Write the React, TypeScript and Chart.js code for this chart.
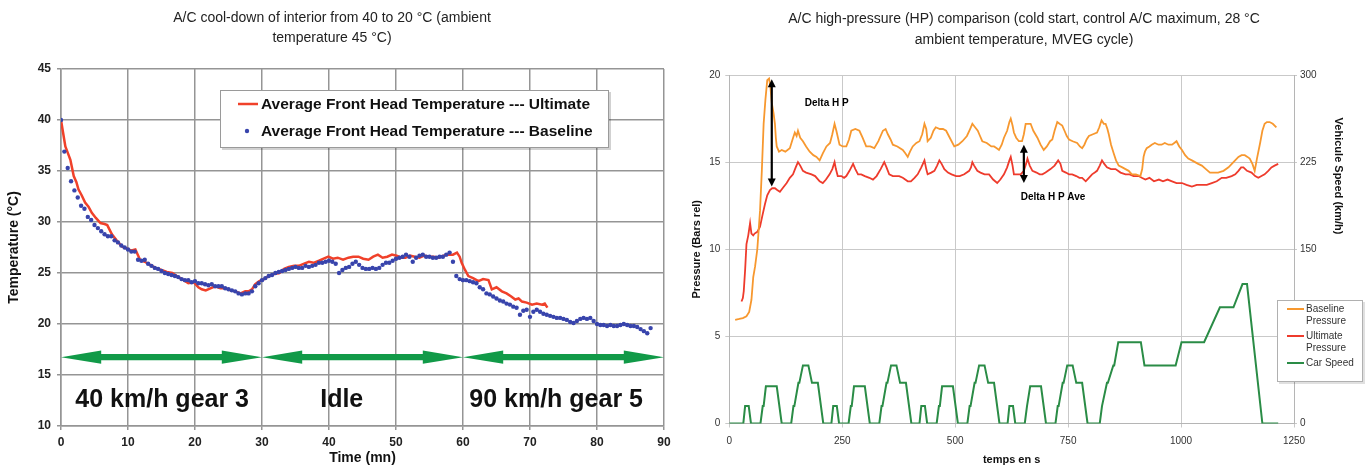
import React, { useEffect, useRef } from 'react';
import { Chart, registerables } from 'chart.js';

Chart.register(...registerables);

const FONT = '"Liberation Sans", Arial, Helvetica, sans-serif';
Chart.defaults.font.family = FONT;

// ---------------- Left chart: A/C cool-down ----------------
const coolTitle = ['A/C cool-down of interior from 40 to 20 °C (ambient', 'temperature 45 °C)'];
const coolXLabel = 'Time (mn)';
const coolYLabel = 'Temperature (°C)';
const coolSeriesNames = ['Average Front Head Temperature --- Ultimate', 'Average Front Head Temperature --- Baseline'];

const ultimateTime = [0,0.3,0.65,1.0,1.4,1.9,2.3,2.6,3.1,3.6,4.1,4.6,5.2,5.9,6.5,6.9,7.6,8.3,9.1,9.8,10.5,11.1,11.8,12.5,13.3,14.1,15.0,15.8,16.6,17.5,18.3,19.0,19.8,20.5,21.0,21.6,22.3,23.0,23.8,24.6,25.3,26.0,26.8,27.5,28.0,28.5,29.0,29.6,30.3,31.0,31.8,32.6,33.3,34.0,34.8,35.5,36.2,37.0,37.7,38.5,39.2,39.9,40.6,41.3,42.1,42.9,43.6,44.4,45.1,45.9,46.6,47.3,48.0,48.7,49.4,50.1,50.8,51.4,52.1,52.8,53.5,54.2,54.9,55.6,56.4,57.1,57.8,58.5,59.1,59.5,59.8,60.3,60.8,61.5,62.3,63.0,63.8,64.3,65.0,65.8,66.5,67.2,67.8,68.3,68.8,69.5,70.3,71.0,71.8,72.2,72.6];
const ultimateTemp = [40.0,38.8,37.4,36.8,36.1,34.5,33.9,33.2,32.6,31.9,31.5,30.9,30.4,29.9,29.8,29.7,28.8,28.2,27.6,27.4,27.2,27.3,26.3,26.1,25.8,25.5,25.3,25.1,25.0,24.6,24.3,24.0,24.1,23.6,23.4,23.3,23.5,23.7,23.5,23.5,23.3,23.2,23.0,23.2,23.2,23.4,23.9,24.2,24.4,24.7,24.9,25.0,25.4,25.6,25.7,25.7,25.9,26.1,26.0,26.2,26.4,26.6,26.4,26.5,26.3,26.5,26.6,26.6,26.4,26.3,26.6,26.8,26.5,26.6,26.8,26.7,26.5,26.5,26.7,26.6,26.5,26.7,26.6,26.6,26.5,26.7,26.8,26.8,27.0,26.6,26.0,25.3,24.7,24.5,24.2,24.4,24.3,23.4,23.6,23.2,23.0,22.7,22.4,22.5,22.2,22.1,21.9,22.0,21.9,22.0,21.6];

const baselineTime = [0,0.5,1,1.5,2,2.5,3,3.5,4,4.5,5,5.5,6,6.5,7,7.5,8,8.5,9,9.5,10,10.5,11,11.5,12,12.5,13,13.5,14,14.5,15,15.5,16,16.5,17,17.5,18,18.5,19,19.5,20,20.5,21,21.5,22,22.5,23,23.5,24,24.5,25,25.5,26,26.5,27,27.5,28,28.5,29,29.5,30,30.5,31,31.5,32,32.5,33,33.5,34,34.5,35,35.5,36,36.5,37,37.5,38,38.5,39,39.5,40,40.5,41,41.5,42,42.5,43,43.5,44,44.5,45,45.5,46,46.5,47,47.5,48,48.5,49,49.5,50,50.5,51,51.5,52,52.5,53,53.5,54,54.5,55,55.5,56,56.5,57,57.5,58,58.5,59,59.5,60,60.5,61,61.5,62,62.5,63,63.5,64,64.5,65,65.5,66,66.5,67,67.5,68,68.5,69,69.5,70,70.5,71,71.5,72,72.5,73,73.5,74,74.5,75,75.5,76,76.5,77,77.5,78,78.5,79,79.5,80,80.5,81,81.5,82,82.5,83,83.5,84,84.5,85,85.5,86,86.5,87,87.5,88];
const baselineTemp = [40.0,36.9,35.3,34.0,33.1,32.4,31.6,31.3,30.5,30.2,29.7,29.4,29.1,28.8,28.6,28.6,28.2,28.0,27.7,27.5,27.3,27.1,27.1,26.3,26.2,26.3,25.9,25.7,25.5,25.4,25.2,25.0,24.9,24.8,24.7,24.6,24.4,24.3,24.3,24.1,24.2,24.0,24.0,23.9,23.8,23.9,23.7,23.7,23.7,23.5,23.4,23.3,23.2,23.0,22.9,23.0,23.0,23.2,23.7,24.0,24.3,24.5,24.7,24.8,25.0,25.1,25.2,25.3,25.4,25.5,25.6,25.5,25.5,25.7,25.6,25.7,25.8,26.0,26.0,26.1,26.2,26.1,25.9,25.0,25.3,25.5,25.6,25.9,26.1,25.8,25.5,25.4,25.4,25.5,25.4,25.5,25.8,26.0,26.0,26.2,26.4,26.5,26.6,26.8,26.6,26.1,26.5,26.7,26.8,26.6,26.6,26.5,26.5,26.6,26.6,26.8,27.0,26.1,24.7,24.4,24.3,24.3,24.2,24.1,24.0,23.6,23.4,23.0,22.9,22.7,22.5,22.3,22.2,22.0,21.9,21.7,21.6,20.9,21.3,21.4,20.7,21.2,21.4,21.2,21.0,20.9,20.8,20.7,20.6,20.6,20.5,20.4,20.2,20.1,20.3,20.5,20.6,20.5,20.6,20.3,20.0,19.9,19.9,19.8,19.9,19.8,19.8,19.9,20.0,19.9,19.8,19.8,19.7,19.5,19.3,19.1,19.6];

const phaseNames = ['40 km/h gear 3', 'Idle', '90 km/h gear 5'];
const phaseStart = [0, 30, 60];
const phaseEnd = [30, 60, 90];
const phaseLabelTime = [15.1, 41.9, 73.9];
const phaseArrowTemp = 16.75;
const phaseLabelTemp = 11.9;

// ---------------- Right chart: A/C high pressure ----------------
const hpTitle = ['A/C high-pressure (HP) comparison (cold start, control A/C maximum, 28 °C', 'ambient temperature, MVEG cycle)'];
const hpXLabel = 'temps en s';
const hpYLabel = 'Pressure (Bars rel)';
const hpY2Label = 'Vehicule Speed (km/h)';
const hpSeriesNames = ['Baseline Pressure', 'Ultimate Pressure', 'Car Speed'];
const hpLegendLines = [['Baseline', 'Pressure'], ['Ultimate', 'Pressure'], ['Car Speed']];

const hpBaseTime = [13,22,30,38,44,49,53,57,62,68,72,76,80,84,88,91,94,98,101,103,105,110,116,124,134,140,145,149,152,157,163,170,178,186,193,200,207,215,223,228,233,237,244,251,259,265,270,279,288,295,303,312,321,330,340,346,351,357,362,372,384,390,395,400,406,414,421,427,432,436,439,446,452,457,466,473,480,488,498,507,516,526,533,538,544,550,555,560,570,580,586,592,597,603,608,615,620,623,627,630,635,641,648,652,656,661,667,673,682,689,696,703,710,715,720,726,731,737,742,747,752,760,770,776,781,786,791,796,805,814,819,824,829,833,837,840,845,851,856,862,870,877,884,891,900,910,914,917,920,924,930,935,942,950,957,964,972,980,985,990,996,1002,1009,1016,1024,1031,1038,1046,1055,1064,1073,1082,1094,1105,1116,1127,1134,1141,1147,1152,1158,1163,1168,1175,1180,1185,1190,1196,1203,1211];
const hpBasePressure = [5.95,6.0,6.05,6.15,6.4,7.1,8.4,9.0,10.0,12.2,14.5,17.2,18.6,19.7,19.8,19.3,18.4,17.8,17.2,16.4,15.9,15.6,15.7,15.6,15.8,16.3,16.7,16.5,16.8,16.4,16.2,15.9,15.6,15.4,15.3,15.1,15.5,15.9,16.1,16.6,17.2,16.8,16.0,15.9,15.9,16.3,16.8,16.9,16.8,16.4,15.9,15.9,15.8,16.2,16.8,16.9,16.6,16.3,16.0,15.9,15.7,15.5,15.3,15.6,15.9,16.1,16.2,16.6,17.2,16.9,16.2,16.4,16.8,17.0,16.9,16.9,16.8,16.4,15.9,16.0,16.2,16.5,16.9,17.2,17.0,16.8,16.5,16.2,16.1,15.9,15.9,15.8,15.7,16.0,16.4,16.8,17.3,17.5,17.1,16.7,16.4,16.2,16.2,16.6,17.2,17.2,17.2,16.8,16.4,16.0,15.7,15.9,16.2,16.3,16.8,17.3,17.2,17.1,16.8,16.5,16.3,16.2,16.1,15.9,15.8,16.0,16.3,16.5,16.6,16.7,17.0,17.4,17.2,17.2,16.9,16.6,16.0,15.5,15.1,14.8,14.7,14.6,14.5,14.3,14.3,14.2,14.6,15.3,15.6,15.8,15.9,16.0,16.1,16.0,16.0,16.1,16.0,16.0,16.1,16.2,15.9,15.7,15.4,15.2,15.1,15.0,14.9,14.8,14.6,14.4,14.4,14.4,14.5,14.7,15.0,15.3,15.4,15.4,15.3,15.2,14.9,14.5,15.2,16.1,16.8,17.2,17.3,17.3,17.2,17.0];

const hpUltTime = [27,30,32,35,38,42,46,49,53,56,62,68,73,79,84,90,95,101,106,112,118,127,134,141,147,152,157,163,170,182,190,200,207,214,222,228,233,236,240,248,254,259,266,274,279,285,292,300,310,318,326,335,343,348,354,362,370,376,384,395,402,410,417,425,432,436,439,447,454,460,465,470,476,484,492,502,510,520,531,535,538,542,549,556,565,575,584,593,600,608,615,620,623,627,630,638,645,652,657,660,665,671,680,687,693,700,711,720,728,733,737,745,752,759,768,775,781,789,796,803,809,814,820,825,830,836,845,855,866,877,886,895,906,913,921,930,940,951,960,970,980,990,1002,1012,1024,1035,1046,1057,1068,1079,1090,1100,1112,1120,1127,1133,1138,1146,1156,1164,1171,1178,1185,1193,1200,1207,1215];
const hpUltPressure = [7.0,7.2,7.6,8.8,10.3,10.8,11.5,10.9,10.8,10.9,11.0,11.3,11.9,12.6,13.1,13.4,13.5,13.5,13.4,13.3,13.5,13.8,14.1,14.3,14.7,15.0,14.8,14.5,14.4,14.3,14.2,13.9,13.8,14.0,14.3,14.6,15.0,14.6,14.2,14.2,14.1,14.2,14.5,14.9,14.6,14.3,14.3,14.2,14.1,14.0,14.2,14.6,15.0,14.7,14.3,14.2,14.2,14.2,14.1,13.9,13.9,14.1,14.3,14.7,15.1,14.6,14.3,14.4,14.5,14.8,15.1,14.9,14.6,14.4,14.3,14.2,14.2,14.3,14.5,14.7,15.0,14.8,14.5,14.4,14.3,14.3,14.0,13.8,14.0,14.3,14.7,15.1,15.3,14.8,14.3,14.3,14.3,14.5,14.9,15.2,14.8,14.5,14.4,14.3,14.3,14.4,14.6,14.8,15.1,14.9,14.5,14.4,14.3,14.3,14.2,14.1,14.1,13.9,14.1,14.3,14.4,14.5,14.8,15.1,14.9,14.7,14.6,14.6,14.4,14.3,14.3,14.2,14.2,14.1,14.0,14.1,13.9,14.0,13.9,14.0,13.9,13.8,13.8,13.7,13.6,13.7,13.7,13.7,13.8,13.9,14.1,14.1,14.2,14.3,14.5,14.7,14.7,14.5,14.4,14.2,14.1,14.2,14.3,14.5,14.7,14.8,14.9];

const speedTime = [0,31,35,43,48,69,74,76,81,105,116,137,142,144,153,155,163,175,183,196,208,
  226,230,238,243,264,269,271,276,300,311,332,337,339,348,350,358,370,378,391,403,
  421,425,433,438,459,464,466,471,495,506,527,532,534,543,545,553,565,573,586,598,
  616,620,628,633,654,659,661,666,690,701,722,727,729,738,740,748,760,768,781,793,
  820,825,827,836,838,850,852,861,911,919,988,1001,1051,1086,1116,1136,1146,1180,1215];
const speedKmh = [0,0,15,15,0,0,15,15,32,32,0,0,15,15,35,35,50,50,35,35,0,
  0,15,15,0,0,15,15,32,32,0,0,15,15,35,35,50,50,35,35,0,
  0,15,15,0,0,15,15,32,32,0,0,15,15,35,35,50,50,35,35,0,
  0,15,15,0,0,15,15,32,32,0,0,15,15,35,35,50,50,35,35,0,
  0,15,15,35,35,50,50,70,70,50,50,70,70,100,100,120,120,0,0];

const deltaLabels = ['Delta H P', 'Delta H P Ave'];
const deltaTime = [94, 652];
const deltaTop = [19.75, 16.0];
const deltaBottom = [13.6, 13.8];
const deltaLabelTime = [167, 645];
const deltaLabelPressure = [18.4, 13.0];

// ---------------- helpers ----------------
const pairs = (xs: number[], ys: number[]) => xs.map((x, i) => ({ x, y: ys[i] }));

const fixWidth = (w: number) => (scale: any) => {
  scale.width = w;
  scale.paddingTop = 0; scale.paddingBottom = 0; scale.paddingLeft = 0; scale.paddingRight = 0;
};
const fixHeight = (h: number) => (scale: any) => {
  scale.height = h;
  scale.paddingTop = 0; scale.paddingBottom = 0; scale.paddingLeft = 0; scale.paddingRight = 0;
};
const plainNumber = (v: any) => String(v);

const RED = '#f0412a';
const BLUE = '#3844ac';
const GREEN_ARROW = '#119a48';
const ORANGE = '#f7982f';
const HP_RED = '#ee3b2c';
const SPEED_GREEN = '#2a8c46';

// ---------------- plugins ----------------
const phasePlugin = {
  id: 'phases',
  afterDatasetsDraw(chart: any) {
    const { ctx, scales } = chart;
    const x = scales.x, y = scales.y;
    ctx.save();
    const yc = y.getPixelForValue(phaseArrowTemp);
    const hh = Math.abs(y.getPixelForValue(phaseArrowTemp + 0.65) - yc);
    const sh = Math.abs(y.getPixelForValue(phaseArrowTemp + 0.3) - yc);
    ctx.fillStyle = GREEN_ARROW;
    phaseStart.forEach((s: number, i: number) => {
      const xs = x.getPixelForValue(s);
      const xe = x.getPixelForValue(phaseEnd[i]);
      const hl = x.getPixelForValue(s + 6) - xs;
      ctx.beginPath();
      ctx.moveTo(xs, yc);
      ctx.lineTo(xs + hl, yc - hh);
      ctx.lineTo(xs + hl, yc - sh);
      ctx.lineTo(xe - hl, yc - sh);
      ctx.lineTo(xe - hl, yc - hh);
      ctx.lineTo(xe, yc);
      ctx.lineTo(xe - hl, yc + hh);
      ctx.lineTo(xe - hl, yc + sh);
      ctx.lineTo(xs + hl, yc + sh);
      ctx.lineTo(xs + hl, yc + hh);
      ctx.closePath();
      ctx.fill();
    });
    ctx.fillStyle = '#111';
    ctx.font = `bold 25px ${FONT}`;
    ctx.textAlign = 'center';
    ctx.textBaseline = 'alphabetic';
    phaseNames.forEach((n: string, i: number) => {
      ctx.fillText(n, x.getPixelForValue(phaseLabelTime[i]), y.getPixelForValue(phaseLabelTemp));
    });
    ctx.restore();
  },
};

const coolLegendPlugin = {
  id: 'coolLegend',
  afterDraw(chart: any) {
    const ctx = chart.ctx;
    const bx = 220, by = 90, bw = 389, bh = 58;
    ctx.save();
    ctx.fillStyle = 'rgba(0,0,0,0.18)';
    ctx.fillRect(bx + 2, by + 2, bw, bh);
    ctx.fillStyle = '#fff';
    ctx.fillRect(bx, by, bw, bh);
    ctx.strokeStyle = '#9a9a9a';
    ctx.lineWidth = 1;
    ctx.strokeRect(bx + 0.5, by + 0.5, bw - 1, bh - 1);
    const ds = chart.data.datasets;
    const rows = [by + 14, by + 41];
    ctx.strokeStyle = ds[0].borderColor;
    ctx.lineWidth = 2.5;
    ctx.beginPath();
    ctx.moveTo(bx + 18, rows[0]);
    ctx.lineTo(bx + 38, rows[0]);
    ctx.stroke();
    ctx.fillStyle = ds[1].pointBackgroundColor;
    ctx.beginPath();
    ctx.arc(bx + 27, rows[1], 2.2, 0, Math.PI * 2);
    ctx.fill();
    ctx.fillStyle = '#111';
    ctx.font = `bold 15.5px ${FONT}`;
    ctx.textAlign = 'left';
    ctx.textBaseline = 'middle';
    ds.forEach((d: any, i: number) => ctx.fillText(d.label, bx + 41, rows[i] + 1));
    ctx.restore();
  },
};

const deltaPlugin = {
  id: 'delta',
  afterDatasetsDraw(chart: any) {
    const { ctx, scales } = chart;
    const x = scales.x, y = scales.y;
    ctx.save();
    ctx.strokeStyle = '#000';
    ctx.fillStyle = '#000';
    ctx.lineWidth = 2.2;
    deltaTime.forEach((t: number, i: number) => {
      const px = x.getPixelForValue(t);
      const y1 = y.getPixelForValue(deltaTop[i]);
      const y2 = y.getPixelForValue(deltaBottom[i]);
      const head = 8, hw = 4;
      ctx.beginPath();
      ctx.moveTo(px, y1 + head - 1);
      ctx.lineTo(px, y2 - head + 1);
      ctx.stroke();
      ctx.beginPath();
      ctx.moveTo(px, y1); ctx.lineTo(px - hw, y1 + head); ctx.lineTo(px + hw, y1 + head); ctx.closePath();
      ctx.fill();
      ctx.beginPath();
      ctx.moveTo(px, y2); ctx.lineTo(px - hw, y2 - head); ctx.lineTo(px + hw, y2 - head); ctx.closePath();
      ctx.fill();
    });
    ctx.font = `bold 10px ${FONT}`;
    ctx.textAlign = 'left';
    ctx.textBaseline = 'middle';
    deltaLabels.forEach((l: string, i: number) => {
      ctx.fillText(l, x.getPixelForValue(deltaLabelTime[i]), y.getPixelForValue(deltaLabelPressure[i]));
    });
    ctx.restore();
  },
};

const hpLegendPlugin = {
  id: 'hpLegend',
  afterDraw(chart: any) {
    const ctx = chart.ctx;
    const bx = 597, by = 300, bw = 86, bh = 82;
    ctx.save();
    ctx.fillStyle = 'rgba(0,0,0,0.12)';
    ctx.fillRect(bx + 2, by + 2, bw, bh);
    ctx.fillStyle = '#fff';
    ctx.fillRect(bx, by, bw, bh);
    ctx.strokeStyle = '#b0b0b0';
    ctx.lineWidth = 1;
    ctx.strokeRect(bx + 0.5, by + 0.5, bw - 1, bh - 1);
    const starts = [by + 9, by + 36, by + 63];
    const ds = chart.data.datasets;
    ctx.font = `10px ${FONT}`;
    ctx.textAlign = 'left';
    ctx.textBaseline = 'middle';
    hpLegendLines.forEach((lines: string[], i: number) => {
      ctx.strokeStyle = ds[i].borderColor;
      ctx.lineWidth = 2;
      ctx.beginPath();
      ctx.moveTo(bx + 10, starts[i]);
      ctx.lineTo(bx + 27, starts[i]);
      ctx.stroke();
      ctx.fillStyle = '#333';
      lines.forEach((ln: string, j: number) => ctx.fillText(ln, bx + 29, starts[i] + j * 12));
    });
    ctx.restore();
  },
};

const hpRightTitlePlugin = {
  id: 'hpRightTitle',
  afterDraw(chart: any) {
    const ctx = chart.ctx;
    ctx.save();
    ctx.translate(658, 176);
    ctx.rotate(Math.PI / 2);
    ctx.fillStyle = '#111';
    ctx.font = `bold 11px ${FONT}`;
    ctx.textAlign = 'center';
    ctx.textBaseline = 'middle';
    ctx.fillText(hpY2Label, 0, 0);
    ctx.restore();
  },
};

// ---------------- configs ----------------
function coolConfig(): any {
  const gridColor = '#959595';
  const tickFont = { size: 12, weight: 'bold' as const };
  return {
    type: 'scatter',
    data: {
      datasets: [
        {
          label: coolSeriesNames[0],
          data: pairs(ultimateTime, ultimateTemp),
          showLine: true,
          borderColor: RED,
          backgroundColor: RED,
          borderWidth: 2.5,
          pointRadius: 0,
          tension: 0,
          order: 2,
        },
        {
          label: coolSeriesNames[1],
          data: pairs(baselineTime, baselineTemp),
          showLine: false,
          pointRadius: 2.2,
          pointBorderWidth: 0,
          pointBackgroundColor: BLUE,
          borderColor: BLUE,
          backgroundColor: BLUE,
          order: 1,
        },
      ],
    },
    options: {
      responsive: false,
      animation: false,
      devicePixelRatio: 1,
      events: [],
      layout: { padding: { left: 0, right: 16, top: 0, bottom: 0 } },
      plugins: {
        legend: { display: false },
        tooltip: { enabled: false },
        title: {
          display: true,
          text: coolTitle,
          color: '#222',
          font: { size: 14, weight: 'normal', lineHeight: '20px' },
          padding: { top: 8, bottom: 21 },
        },
      },
      scales: {
        x: {
          type: 'linear',
          min: 0,
          max: 90,
          ticks: { stepSize: 10, color: '#222', font: tickFont, padding: 5, callback: plainNumber },
          grid: { color: gridColor, lineWidth: 1.5, tickLength: 4 },
          border: { color: gridColor, width: 1.5 },
          title: { display: true, text: coolXLabel, color: '#111', font: { size: 14, weight: 'bold' }, padding: { top: 0, bottom: 0 } },
          afterFit: fixHeight(41),
        },
        y: {
          min: 10,
          max: 45,
          ticks: { stepSize: 5, color: '#222', font: tickFont, padding: 6, callback: plainNumber },
          grid: { color: gridColor, lineWidth: 1.5, tickLength: 4 },
          border: { color: gridColor, width: 1.5 },
          title: { display: true, text: coolYLabel, color: '#111', font: { size: 14, weight: 'bold' }, padding: { top: 6, bottom: 0 } },
          afterFit: fixWidth(61),
        },
      },
    },
    plugins: [phasePlugin, coolLegendPlugin],
  };
}

function hpConfig(): any {
  const gridColor = '#c9c9c9';
  const tickFont = { size: 10 };
  return {
    type: 'scatter',
    data: {
      datasets: [
        {
          label: hpSeriesNames[0],
          data: pairs(hpBaseTime, hpBasePressure),
          showLine: true,
          borderColor: ORANGE,
          backgroundColor: ORANGE,
          borderWidth: 1.8,
          pointRadius: 0,
          yAxisID: 'y',
        },
        {
          label: hpSeriesNames[1],
          data: pairs(hpUltTime, hpUltPressure),
          showLine: true,
          borderColor: HP_RED,
          backgroundColor: HP_RED,
          borderWidth: 1.8,
          pointRadius: 0,
          yAxisID: 'y',
        },
        {
          label: hpSeriesNames[2],
          data: pairs(speedTime, speedKmh),
          showLine: true,
          borderColor: SPEED_GREEN,
          backgroundColor: SPEED_GREEN,
          borderWidth: 2,
          pointRadius: 0,
          yAxisID: 'y2',
        },
      ],
    },
    options: {
      responsive: false,
      animation: false,
      devicePixelRatio: 1,
      events: [],
      layout: { padding: { left: 0, right: 0, top: 0, bottom: 0 } },
      plugins: {
        legend: { display: false },
        tooltip: { enabled: false },
        title: {
          display: true,
          text: hpTitle,
          color: '#222',
          font: { size: 14, weight: 'normal', lineHeight: '21px' },
          padding: { top: 8.5, bottom: 24.5 },
        },
      },
      scales: {
        x: {
          type: 'linear',
          min: 0,
          max: 1250,
          ticks: { stepSize: 250, color: '#333', font: tickFont, padding: 8, callback: plainNumber },
          grid: { color: gridColor, lineWidth: 1, tickLength: 4 },
          border: { color: '#b5b5b5', width: 1 },
          title: { display: true, text: hpXLabel, color: '#111', font: { size: 11, weight: 'bold' }, padding: { top: 0, bottom: 0 } },
          afterFit: fixHeight(43.5),
        },
        y: {
          position: 'left',
          min: 0,
          max: 20,
          ticks: { stepSize: 5, color: '#333', font: tickFont, padding: 5, callback: plainNumber },
          grid: { color: gridColor, lineWidth: 1, tickLength: 4 },
          border: { color: '#b5b5b5', width: 1 },
          title: { display: true, text: hpYLabel, color: '#111', font: { size: 11, weight: 'bold' }, padding: { top: 10, bottom: 0 } },
          afterFit: fixWidth(49.3),
        },
        y2: {
          position: 'right',
          min: 0,
          max: 300,
          ticks: { stepSize: 75, color: '#333', font: tickFont, padding: 3, callback: plainNumber },
          grid: { drawOnChartArea: false, color: gridColor, tickLength: 3 },
          border: { color: '#b5b5b5', width: 1 },
          afterFit: fixWidth(74),
        },
      },
    },
    plugins: [deltaPlugin, hpLegendPlugin, hpRightTitlePlugin],
  };
}

export default function App() {
  const leftRef = useRef<HTMLCanvasElement>(null);
  const rightRef = useRef<HTMLCanvasElement>(null);
  useEffect(() => {
    const c1 = new Chart(leftRef.current as HTMLCanvasElement, coolConfig());
    const c2 = new Chart(rightRef.current as HTMLCanvasElement, hpConfig());
    return () => {
      c1.destroy();
      c2.destroy();
    };
  }, []);
  return (
    <div style={{ position: 'absolute', left: 0, top: 0, width: 1368, height: 467, background: '#fff', overflow: 'hidden' }}>
      <canvas ref={leftRef} width={680} height={467} style={{ position: 'absolute', left: 0, top: 0, width: 680, height: 467 }} />
      <canvas ref={rightRef} width={688} height={467} style={{ position: 'absolute', left: 680, top: 0, width: 688, height: 467 }} />
    </div>
  );
}
